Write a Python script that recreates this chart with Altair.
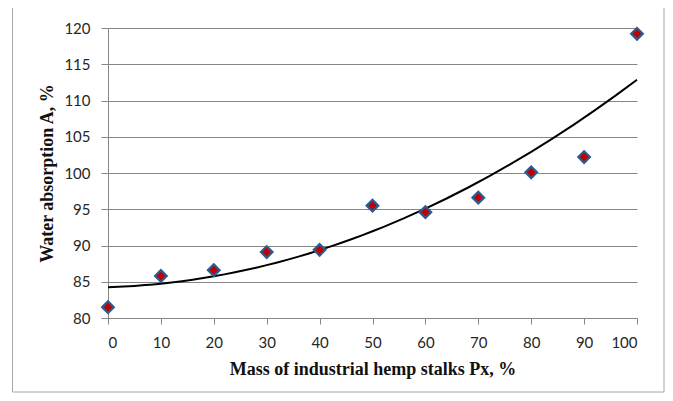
import altair as alt
import pandas as pd

mass = [0, 10, 20, 30, 40, 50, 60, 70, 80, 90, 100]
absorption = [81.5, 85.8, 86.6, 89.1, 89.4, 95.5, 94.6, 96.6, 100.1, 102.2, 119.2]
x_ticks = [0, 10, 20, 30, 40, 50, 60, 70, 80, 90, 100]
y_ticks = [80, 85, 90, 95, 100, 105, 110, 115, 120]

df = pd.DataFrame({"mass": mass, "absorption": absorption})

xenc = alt.X("mass:Q", scale=alt.Scale(domain=[0, 100], nice=False),
             axis=alt.Axis(values=x_ticks, title="Mass of industrial  hemp stalks Px, %",
                           grid=False, tickSize=6, labelPadding=11, titlePadding=10))
yenc = alt.Y("absorption:Q", scale=alt.Scale(domain=[80, 120], nice=False, zero=False),
             axis=alt.Axis(values=y_ticks, title="Water absorption A, %",
                           grid=True, tickSize=7, labelPadding=11, titlePadding=7))

base = alt.Chart(df)

trend = base.transform_regression(
    "mass", "absorption", method="poly", order=2, extent=[0, 100]
).mark_line(color="black", strokeWidth=2).encode(x=xenc, y=yenc)

points = base.mark_point(shape="diamond", filled=True, fill="#C00000",
                         stroke="#2F5B8C", strokeWidth=2.2, size=135, opacity=1).encode(x=xenc, y=yenc)

border = alt.Chart(alt.Data(values=[{"a": 1}])).mark_rect(
    fill=None, stroke="#A6A6A6", strokeWidth=1, clip=False
).encode(x=alt.value(-95.5), x2=alt.value(556), y=alt.value(-20.5), y2=alt.value(364))

chart = alt.layer(border, trend, points).properties(
    width=529, height=290,
    background="white",
    autosize=alt.AutoSizeParams(type="none"),
    padding={"left": 100, "top": 20, "right": 28, "bottom": 75},
).configure_view(stroke=None).configure_axis(
    labelFont="Lato", labelFontSize=15, labelColor="#262626",
    titleFont="Liberation Serif", titleFontSize=18, titleFontWeight="bold", titleColor="#111111",
    domainColor="#868686", tickColor="#868686", gridColor="#868686",
    domainWidth=1, tickWidth=1, gridWidth=1,
)

chart.save("out.html", embed_options={"renderer": "svg", "actions": False})
